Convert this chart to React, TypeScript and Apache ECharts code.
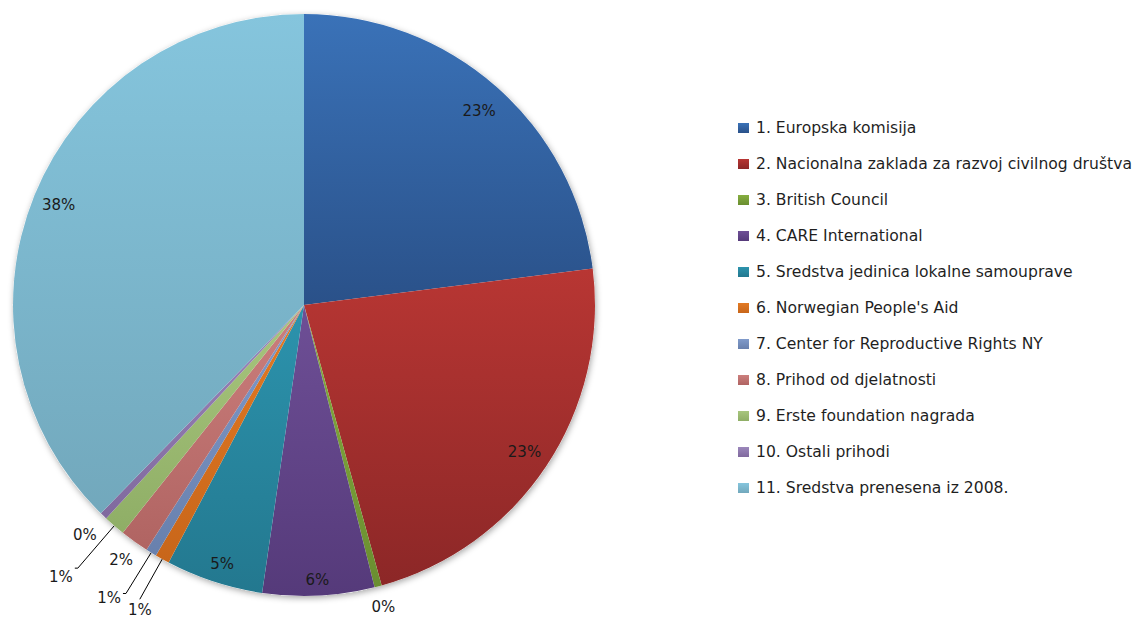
import React, { useEffect, useRef } from "react";
import * as echarts from "echarts";

const categories = [
  "1. Europska komisija",
  "2. Nacionalna zaklada za razvoj civilnog društva",
  "3. British Council",
  "4. CARE International",
  "5. Sredstva jedinica lokalne samouprave",
  "6. Norwegian People's Aid",
  "7. Center for Reproductive Rights NY",
  "8. Prihod od djelatnosti",
  "9. Erste foundation nagrada",
  "10. Ostali prihodi",
  "11. Sredstva prenesena iz 2008.",
];

const shares = [23.0, 22.7, 0.4, 6.2, 5.4, 0.8, 0.6, 1.6, 1.2, 0.4, 37.7];

const topColors = [
  "#3A72B8", "#B83633", "#86AE40", "#6E4F96", "#2C93AD", "#E27A24",
  "#809BCB", "#CC7F7D", "#A8C67E", "#9B87BB", "#85C5DD",
];
const bottomColors = [
  "#2A5189", "#8C2727", "#6A8E30", "#553A7A", "#23788F", "#C8661A",
  "#6880AD", "#B06462", "#8FAE66", "#80699E", "#72A8BC",
];

// leader-line style per small slice:
// [length, length2, showLine, distanceToLabelLine, blankLinesAbove, lineHeight]
const outsideLabelStyle: Record<number, [number, number, boolean, number, number, number]> = {
  2: [21, 0, false, -12, 0, 18],
  5: [46, 0, true, -12, 2, 11],
  6: [48, 3, true, 2, 1, 10],
  7: [23, 0, false, -12, 0, 18],
  8: [56, 3, true, 2, 1, 18],
  9: [27, 0, false, -12, 0, 18],
};

// small downward nudge for labels drawn inside the slices: [blankLinesAbove, lineHeight]
const insideLabelShift: Record<number, [number, number]> = { 0: [1, 10], 3: [1, 20], 4: [1, 14] };

const FONT = "'DejaVu Sans', Verdana, sans-serif";
const CX = 304;
const CY = 305;
const R = 291;

export default function App() {
  const ref = useRef<HTMLDivElement>(null);

  useEffect(() => {
    if (!ref.current) return;
    const chart = echarts.init(ref.current, undefined, { renderer: "svg" });

    const grad = (i: number) =>
      new echarts.graphic.LinearGradient(0, 0, 0, 1, [
        { offset: 0, color: topColors[i] },
        { offset: 1, color: bottomColors[i] },
      ]);

    const isInside = (v: number) => v >= 3;
    const pct = (p: any) => Math.round(p.percent) + "%";
    const shifted = (lead: number) => (p: any) => "\n".repeat(lead) + pct(p);

    const mainData = categories.map((name, i) => {
      const s = outsideLabelStyle[i];
      if (isInside(shares[i]) || !s) {
        return {
          name,
          value: shares[i],
          itemStyle: { color: grad(i) },
          label: { show: false },
          labelLine: { show: false },
        };
      }
      return {
        name,
        value: shares[i],
        itemStyle: { color: grad(i) },
        label: {
          show: true,
          position: "outside",
          distanceToLabelLine: s[3],
          formatter: shifted(s[4]),
          lineHeight: s[5],
        },
        labelLine: {
          show: true,
          length: s[0],
          length2: s[1],
          lineStyle: { color: s[2] ? "#000" : "rgba(0,0,0,0)", width: 1 },
        },
      };
    });

    const labelData = categories.map((name, i) => {
      const sh = insideLabelShift[i] || [0, 18];
      return {
        name: "lbl-" + name,
        value: shares[i],
        label: {
          show: isInside(shares[i]),
          formatter: shifted(sh[0]),
          lineHeight: sh[1],
        },
      };
    });

    chart.setOption({
      animation: false,
      legend: {
        orient: "vertical",
        left: 738,
        top: 119,
        padding: 0,
        itemWidth: 11,
        itemHeight: 10,
        itemGap: 18,
        icon: "rect",
        data: categories,
        selectedMode: false,
        textStyle: {
          fontFamily: FONT,
          fontSize: 15.6,
          color: "#1f1f1f",
          lineHeight: 18,
          padding: [0, 0, 0, 2],
        },
      },
      series: [
        {
          type: "pie",
          silent: true,
          center: [CX, CY],
          radius: [0, R],
          z: 1,
          label: { show: false },
          labelLine: { show: false },
          itemStyle: {
            color: "#ffffff",
            shadowBlur: 6,
            shadowOffsetX: 1,
            shadowOffsetY: 2,
            shadowColor: "rgba(0,0,0,0.35)",
          },
          data: [{ name: "__bg", value: 1 }],
        },
        {
          type: "pie",
          name: "main",
          center: [CX, CY],
          radius: [0, R],
          startAngle: 90,
          clockwise: true,
          z: 2,
          avoidLabelOverlap: false,
          itemStyle: { borderWidth: 0 },
          label: {
            formatter: pct,
            fontFamily: FONT,
            fontSize: 15,
            color: "#1a1a1a",
          },
          labelLine: {
            length: 28,
            length2: 6,
            lineStyle: { color: "#000", width: 1 },
          },
          emphasis: { disabled: true },
          data: mainData,
        },
        {
          type: "pie",
          silent: true,
          center: [CX, CY],
          radius: [R * 0.8, R],
          startAngle: 90,
          clockwise: true,
          z: 3,
          itemStyle: { color: "rgba(0,0,0,0)" },
          label: {
            position: "inside",
            formatter: pct,
            fontFamily: FONT,
            fontSize: 15,
            color: "#1a1a1a",
          },
          labelLine: { show: false },
          emphasis: { disabled: true },
          data: labelData,
        },
      ],
    });

    return () => chart.dispose();
  }, []);

  return (
    <div
      ref={ref}
      style={{ position: "fixed", left: 0, top: 0, width: 1139, height: 620, background: "#fff" }}
    />
  );
}
